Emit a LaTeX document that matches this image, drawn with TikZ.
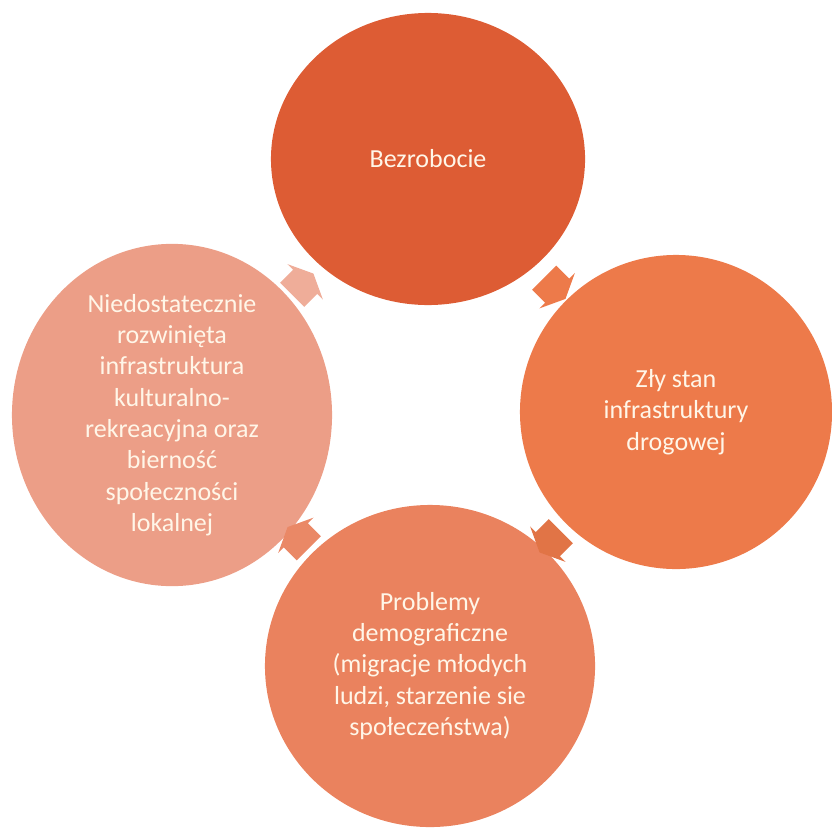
\documentclass[tikz,border=0pt]{standalone}
\usepackage{fontspec}
\setmainfont{Carlito}
\usepackage{tikz}
\usetikzlibrary{calc,positioning,shapes.geometric,shapes.arrows}
\definecolor{topfill}{RGB}{221,92,52}
\definecolor{rightfill}{RGB}{237,122,74}
\definecolor{bottomfill}{RGB}{234,130,94}
\definecolor{leftfill}{RGB}{236,158,135}
\definecolor{labeltext}{RGB}{255,246,232}
\tikzset{
ring/.style={x=0.025cm,y=-0.025cm},
issue/.style={ellipse,inner sep=0pt,text=labeltext,align=center,
font=\fontsize{18.5}{22.3}\selectfont},
turn/.style={single arrow,draw=none,inner xsep=0pt,inner ysep=0.42cm,
minimum height=0.75cm,single arrow head extend=0.2cm,single arrow tip angle=130},
}

\begin{document}
\begin{tikzpicture}[ring]
                \useasboundingbox (0,0) rectangle (832,828);
                \node[issue,fill=topfill,minimum width=7.85cm,minimum height=7.3cm] (top) at (428,159) {Bezrobocie};
                \node[issue,fill=rightfill,minimum width=7.8cm,minimum height=7.85cm] (right) at (676,412) {Zły stan\\infrastruktury\\drogowej};
                \node[issue,fill=bottomfill,minimum width=8.25cm,minimum height=8.05cm] (bottom) at (430,666) {Problemy\\demograficzne\\(migracje młodych\\ludzi, starzenie sie\\społeczeństwa)};
                \node[issue,fill=leftfill,minimum width=8cm,minimum height=7.5cm] (left) at (172,415) {Niedostatecznie\\rozwinięta\\infrastruktura\\kulturalno-\\rekreacyjna oraz\\bierność\\społeczności\\lokalnej};

                % arrows of the cycle, half way between the circles
                \node[turn,fill=leftfill!85!white,rotate=45] (a1) at ($(left)!0.5!(top)$) {};
                \node[turn,fill=rightfill,rotate=-45] (a2) at ($(top)!0.5!(right)$) {};
                \node[turn,fill=rightfill!95!black,rotate=-135] (a3) at ($(right)!0.5!(bottom)$) {};
                \node[turn,fill=bottomfill!80!leftfill,rotate=135] (a4) at ($(bottom)!0.5!(left)$) {};
            \end{tikzpicture}
\end{document}
